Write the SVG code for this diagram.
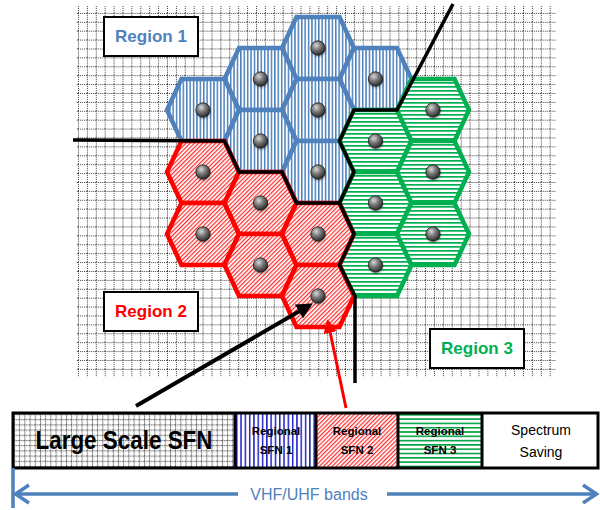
<svg xmlns="http://www.w3.org/2000/svg" xmlns:xlink="http://www.w3.org/1999/xlink" width="600" height="510" viewBox="0 0 600 510">
  <style>
    .hex-blue { stroke: #4F81BD; stroke-width: 4.5; stroke-linejoin: miter; fill: url(#stripe-blue); }
    .hex-red { stroke: #FF0000; stroke-width: 4.5; stroke-linejoin: miter; fill: url(#hatch-red); }
    .hex-green { stroke: #00B050; stroke-width: 4.5; stroke-linejoin: miter; fill: url(#stripe-green); }
    .site { fill: url(#sphere); stroke: #1a1a1a; stroke-width: 0.8; }
    .site-shadow { fill: #000; opacity: 0.3; filter: url(#soft); }
    .border { fill: none; stroke: #000; stroke-width: 3.5; stroke-linejoin: miter; }
    .label-box { fill: #fff; stroke: #000; stroke-width: 2; }
    .region-label { font-family: "Liberation Sans", Arial, sans-serif; font-weight: bold; font-size: 17px; text-anchor: middle; }
    .band-small { font-family: "Liberation Sans", Arial, sans-serif; font-weight: bold; font-size: 11.5px; text-anchor: middle; fill: #000; }
    .band-plain { font-family: "Liberation Sans", Arial, sans-serif; font-size: 14px; text-anchor: middle; fill: #000; }
    .band-edge { stroke: #000; stroke-width: 3; fill: none; }
    .axis { stroke: #4F81BD; stroke-width: 3.5; fill: none; }
  </style>
  <defs>
    <!-- dotted map grid -->
    <pattern id="grid" patternUnits="userSpaceOnUse" x="78" y="4" width="8.9" height="8.9">
      <rect width="8.9" height="8.9" fill="#fff"/>
      <line x1="0.5" y1="0" x2="0.5" y2="8.9" stroke="#444" stroke-width="1" stroke-dasharray="1 1"/>
      <line x1="0" y1="0.5" x2="8.9" y2="0.5" stroke="#444" stroke-width="1" stroke-dasharray="1 1"/>
    </pattern>
    <pattern id="grid-small" patternUnits="userSpaceOnUse" x="14" y="414" width="5.2" height="5.2">
      <rect width="5.2" height="5.2" fill="#fff"/>
      <line x1="0.5" y1="0" x2="0.5" y2="5.2" stroke="#444" stroke-width="1" stroke-dasharray="1 1"/>
      <line x1="0" y1="0.5" x2="5.2" y2="0.5" stroke="#444" stroke-width="1" stroke-dasharray="1 1"/>
    </pattern>
    <!-- cell fills -->
    <pattern id="stripe-blue" patternUnits="userSpaceOnUse" width="3.4" height="10">
      <rect width="3.4" height="10" fill="#fff"/>
      <rect width="1.5" height="10" fill="#4a7ebb"/>
    </pattern>
    <pattern id="hatch-red" patternUnits="userSpaceOnUse" width="3" height="10" patternTransform="rotate(45)">
      <rect width="3" height="10" fill="#fff"/>
      <rect width="1.2" height="10" fill="#ff2a2a"/>
    </pattern>
    <pattern id="stripe-green" patternUnits="userSpaceOnUse" width="10" height="4">
      <rect width="10" height="4" fill="#fff"/>
      <rect width="10" height="1.7" fill="#00B050"/>
    </pattern>
    <pattern id="stripe-blue-bar" patternUnits="userSpaceOnUse" x="236" width="4.3" height="10">
      <rect width="4.3" height="10" fill="#fff"/>
      <rect width="1.5" height="10" fill="#2020c8"/>
    </pattern>
    <pattern id="stripe-green-bar" patternUnits="userSpaceOnUse" y="414" width="10" height="4.3">
      <rect width="10" height="4.3" fill="#fff"/>
      <rect width="10" height="1.6" fill="#00A040"/>
    </pattern>
    <radialGradient id="sphere" cx="0.38" cy="0.32" r="0.7">
      <stop offset="0" stop-color="#d8d8d8"/>
      <stop offset="0.45" stop-color="#7a7a7a"/>
      <stop offset="1" stop-color="#262626"/>
    </radialGradient>
    <filter id="soft" x="-50%" y="-50%" width="200%" height="200%">
      <feGaussianBlur stdDeviation="1.2"/>
    </filter>
    <path id="hex" d="M-21.5,-31 H21.5 L36,0 L21.5,31 H-21.5 L-36,0 Z"/>
    <g id="site">
      <circle class="site-shadow" cx="0.6" cy="2" r="7.2"/>
      <circle class="site" cx="0" cy="0" r="7.2"/>
    </g>
    <marker id="head-black" viewBox="0 0 10 10" refX="8" refY="5" markerWidth="4" markerHeight="4" orient="auto" markerUnits="strokeWidth">
      <path d="M0,0 L10,5 L0,10 Z" fill="#000"/>
    </marker>
    <marker id="head-red" viewBox="0 0 10 10" refX="8" refY="5" markerWidth="4.5" markerHeight="4.5" orient="auto" markerUnits="strokeWidth">
      <path d="M0,0 L10,5 L0,10 Z" fill="#f00"/>
    </marker>
  </defs>

  <rect width="600" height="510" fill="#fff"/>

  <!-- coverage map background -->
  <rect x="76" y="5" width="480" height="372" fill="url(#grid)"/>

  <!-- region 1 cells -->
  <g id="blue-1" transform="translate(318,48)"><use href="#hex" class="hex-blue"/><use href="#site"/></g>
  <g id="blue-2" transform="translate(260.5,79)"><use href="#hex" class="hex-blue"/><use href="#site"/></g>
  <g id="blue-3" transform="translate(375.5,79)"><use href="#hex" class="hex-blue"/><use href="#site"/></g>
  <g id="blue-4" transform="translate(203,110)"><use href="#hex" class="hex-blue"/><use href="#site"/></g>
  <g id="blue-5" transform="translate(318,110)"><use href="#hex" class="hex-blue"/><use href="#site"/></g>
  <g id="blue-6" transform="translate(260.5,141)"><use href="#hex" class="hex-blue"/><use href="#site"/></g>
  <g id="blue-7" transform="translate(318,172)"><use href="#hex" class="hex-blue"/><use href="#site"/></g>

  <!-- region 3 cells -->
  <g id="green-1" transform="translate(375.5,141)"><use href="#hex" class="hex-green"/><use href="#site"/></g>
  <g id="green-2" transform="translate(375.5,203)"><use href="#hex" class="hex-green"/><use href="#site"/></g>
  <g id="green-3" transform="translate(375.5,265)"><use href="#hex" class="hex-green"/><use href="#site"/></g>
  <g id="green-4" transform="translate(433,110)"><use href="#hex" class="hex-green"/><use href="#site"/></g>
  <g id="green-5" transform="translate(433,172)"><use href="#hex" class="hex-green"/><use href="#site"/></g>
  <g id="green-6" transform="translate(433,234)"><use href="#hex" class="hex-green"/><use href="#site"/></g>

  <!-- region 2 cells -->
  <g id="red-1" transform="translate(203,172)"><use href="#hex" class="hex-red"/><use href="#site"/></g>
  <g id="red-2" transform="translate(203,234)"><use href="#hex" class="hex-red"/><use href="#site"/></g>
  <g id="red-3" transform="translate(260.5,203)"><use href="#hex" class="hex-red"/><use href="#site"/></g>
  <g id="red-4" transform="translate(260.5,265)"><use href="#hex" class="hex-red"/><use href="#site"/></g>
  <g id="red-5" transform="translate(318,234)"><use href="#hex" class="hex-red"/><use href="#site"/></g>
  <g id="red-6" transform="translate(318,296)"><use href="#hex" class="hex-red"/><use href="#site"/></g>

  <!-- region borders -->
  <g id="region-borders">
    <path class="border" d="M73,140 L224.5,141 L239,172 L282,172 L296.5,203 L339.5,203"/>
    <path class="border" d="M453,4 L397,110 L354,110 L339.5,141 L354,172 L339.5,203"/>
    <path class="border" d="M339.5,203 L354,234 L339.5,265 L355,296 L355,383"/>
  </g>

  <!-- region labels -->
  <g id="region-1-label">
    <rect class="label-box" x="104" y="17" width="94" height="39"/>
    <text class="region-label" x="151" y="42" fill="#4F81BD">Region 1</text>
  </g>
  <g id="region-2-label">
    <rect class="label-box" x="104" y="292" width="94" height="39"/>
    <text class="region-label" x="151" y="317" fill="#FF0000">Region 2</text>
  </g>
  <g id="region-3-label">
    <rect class="label-box" x="430" y="329" width="94" height="39"/>
    <text class="region-label" x="477" y="354" fill="#00B050">Region 3</text>
  </g>

  <!-- spectrum allocation bar -->
  <g id="band-large-sfn">
    <rect x="13" y="413" width="222" height="55" fill="url(#grid-small)"/>
    <text x="124" y="449" font-family="'Liberation Sans', Arial, sans-serif" font-weight="bold" font-size="26" text-anchor="middle" textLength="177" lengthAdjust="spacingAndGlyphs">Large Scale SFN</text>
  </g>
  <g id="band-sfn-1">
    <rect x="235" y="413" width="81" height="55" fill="url(#stripe-blue-bar)"/>
    <text class="band-small" x="276" y="435">Regional</text>
    <text class="band-small" x="276" y="454">SFN 1</text>
  </g>
  <g id="band-sfn-2">
    <rect x="316" y="413" width="82" height="55" fill="url(#hatch-red)"/>
    <text class="band-small" x="357" y="435">Regional</text>
    <text class="band-small" x="357" y="454">SFN 2</text>
  </g>
  <g id="band-sfn-3">
    <rect x="398" y="413" width="84" height="55" fill="url(#stripe-green-bar)"/>
    <text class="band-small" x="440" y="435">Regional</text>
    <text class="band-small" x="440" y="454">SFN 3</text>
  </g>
  <g id="band-saving">
    <rect x="482" y="413" width="116" height="55" fill="#fff"/>
    <text class="band-plain" x="541" y="435">Spectrum</text>
    <text class="band-plain" x="541" y="457">Saving</text>
  </g>
  <g id="band-outline">
    <rect class="band-edge" x="13" y="413" width="585" height="55"/>
    <path class="band-edge" d="M235,413 V468 M316,413 V468 M398,413 V468 M482,413 V468"/>
  </g>

  <!-- frequency axis -->
  <g id="frequency-axis">
    <path class="axis" d="M13,468 V508" stroke-width="2.5"/>
    <path class="axis" d="M15,494 H238 M387,494 H596"/>
    <path class="axis" d="M29,485 L15.5,494 L29,503"/>
    <path class="axis" d="M583,485 L596.5,494 L583,503"/>
    <text x="309" y="500" font-family="'Liberation Sans', Arial, sans-serif" font-size="16" fill="#4F81BD" text-anchor="middle">VHF/UHF bands</text>
  </g>

  <!-- connectors -->
  <g id="connectors">
    <line x1="136" y1="406" x2="310" y2="305" stroke="#000" stroke-width="4" marker-end="url(#head-black)"/>
    <line x1="346" y1="408" x2="328" y2="322" stroke="#f00" stroke-width="3" marker-end="url(#head-red)"/>
  </g>
</svg>
